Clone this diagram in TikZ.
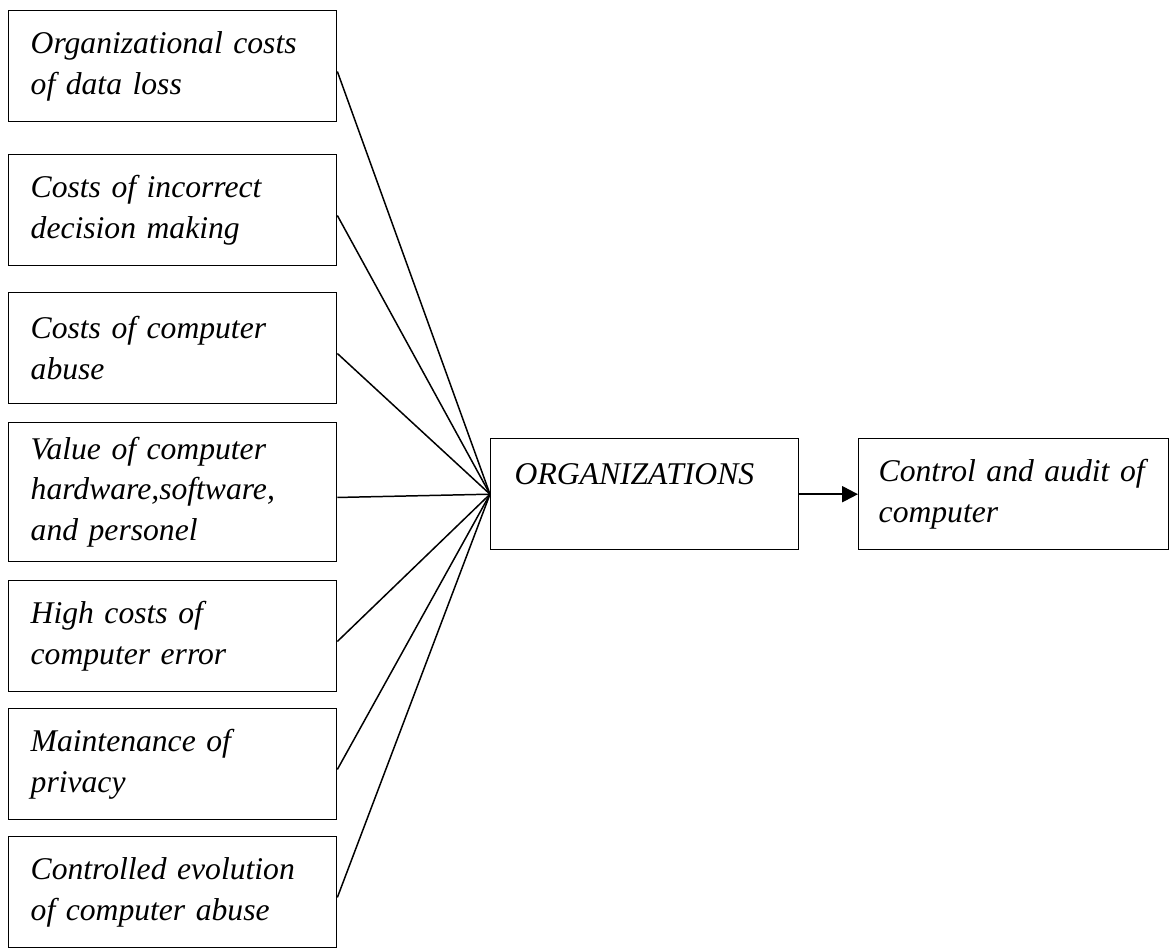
\documentclass[tikz,border=0pt]{standalone}
\usepackage{fontspec}
\setmainfont{Liberation Serif}
\usetikzlibrary{arrows.meta}

\tikzset{
	costbox/.style={draw, line width=0.8pt, anchor=north west, align=left,
		minimum width=6.56cm, minimum height=2.22cm, text width=5.68cm,
		inner xsep=0.44cm, inner ysep=0pt, font=\fontsize{18}{23.3}\selectfont\itshape},
	link/.style={line width=0.85pt}
}

\begin{document}
\begin{tikzpicture}[x=0.02cm, y=-0.02cm]
	\useasboundingbox (0,0) rectangle (1169,947);
	
	% factors on the left
	\node[costbox] (data) at (8,10) {Organizational costs\\of data loss};
	\node[costbox] (decision) at (8,154) {Costs of incorrect\\decision making};
	\node[costbox] (abuse) at (8,292) {Costs of computer\\abuse};
	\node[costbox, minimum height=2.78cm] (value) at (8,422) {Value of computer\\hardware,software,\\and personel};
	\node[costbox] (error) at (8,580) {High costs of\\computer error};
	\node[costbox] (privacy) at (8,708) {Maintenance of\\privacy};
	\node[costbox] (evolution) at (8,836) {Controlled evolution\\of computer abuse};
	
	% organization and result
	\node[costbox, minimum width=6.16cm, text width=5.2cm] (org) at (490,438) {ORGANIZATIONS\\~};
	\node[costbox, minimum width=6.2cm, text width=5.4cm, inner xsep=0.4cm] (ctrl) at (858,438) {Control and audit of\\computer};
	
	\foreach \f in {data,decision,abuse,value,error,privacy,evolution}
		\draw[link] ([yshift=-3pt]\f.east) -- (org.west);
	
	\draw[line width=1.2pt, -{Triangle[length=9pt,width=9pt]}] (org.east) -- (ctrl.west);
\end{tikzpicture}
\end{document}
